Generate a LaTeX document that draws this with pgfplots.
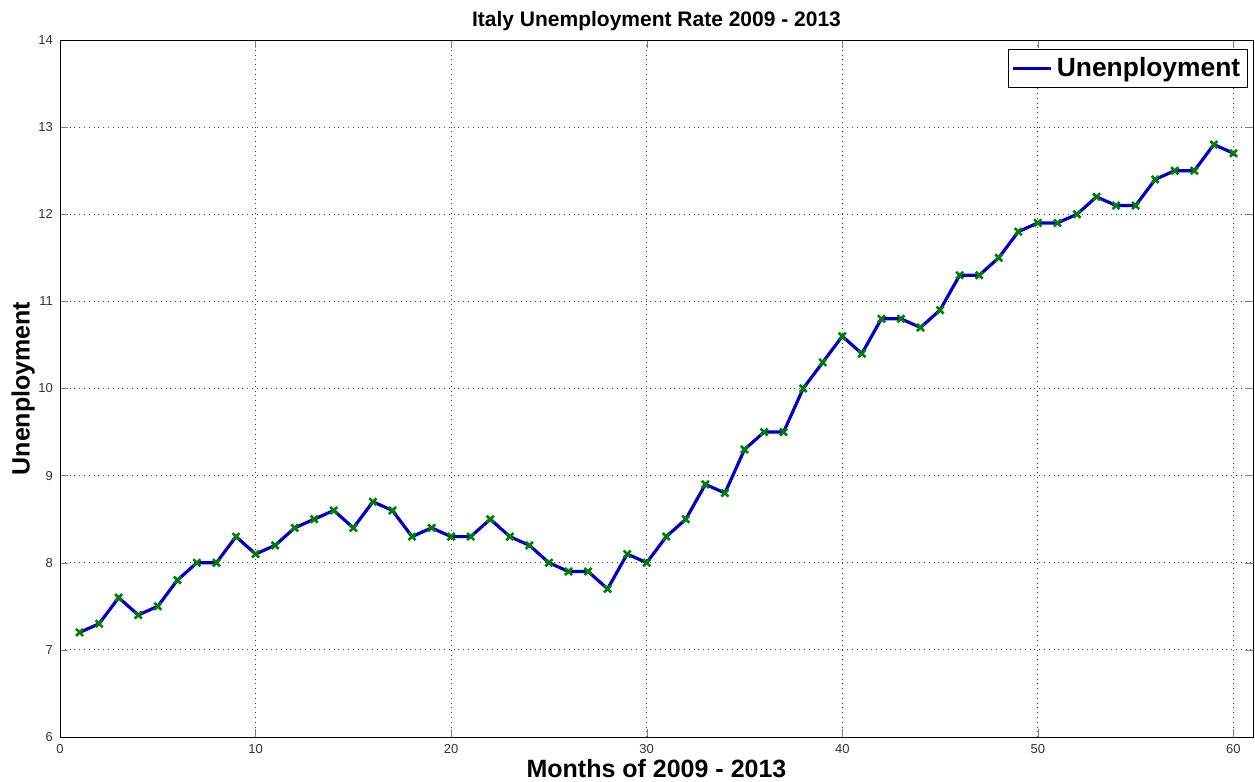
\documentclass[border=0pt]{standalone}
\usepackage{pgfplots}
\pgfplotsset{compat=1.18}
\usepackage{fontspec}
\setmainfont{Liberation Sans}
\begin{document}
\begin{tikzpicture}
\begin{axis}[
  at={(0,0)}, anchor=south west,
  scale only axis, width=596.5pt, height=348.5pt,
  xmin=0, xmax=61, ymin=6, ymax=14,
  xtick={0,10,...,60}, ytick={6,7,...,14},
  tick align=inside, tick pos=both,
  major tick length=4pt,
  grid=major, grid style={black!75, dotted, line width=0.4pt},
  ticklabel style={font=\fontsize{6.5}{7}\selectfont, text=black!80},
  /pgf/number format/assume math mode=true,
  xlabel={\bfseries Months of 2009 - 2013},
  ylabel={\bfseries Unenployment},
  xlabel style={font=\fontsize{12.5}{14}\selectfont, yshift=4pt},
  ylabel style={font=\fontsize{12.5}{14}\selectfont, yshift=-5pt},
  title={\bfseries Italy Unemployment Rate 2009 - 2013},
  title style={font=\fontsize{10.5}{12}\selectfont, yshift=-5pt},
  legend style={at={(0.9955,0.987)}, anchor=north east, draw=black, font=\bfseries\fontsize{13.2}{15}\selectfont, inner xsep=1.5pt, inner ysep=2pt, row sep=0pt},
  legend cell align=left,
  legend image code/.code={\draw[#1, mark=none] (-0.05cm,0cm) -- (0.62cm,0cm);},
]
\addplot[blue!80!black, line width=1.6pt, mark=x, mark size=2.5pt, mark options={draw=green!50!black, line width=1.3pt}] coordinates {
(1,7.2)(2,7.3)(3,7.6)(4,7.4)(5,7.5)(6,7.8)(7,8.0)(8,8.0)(9,8.3)(10,8.1)
(11,8.2)(12,8.4)(13,8.5)(14,8.6)(15,8.4)(16,8.7)(17,8.6)(18,8.3)(19,8.4)(20,8.3)
(21,8.3)(22,8.5)(23,8.3)(24,8.2)(25,8.0)(26,7.9)(27,7.9)(28,7.7)(29,8.1)(30,8.0)
(31,8.3)(32,8.5)(33,8.9)(34,8.8)(35,9.3)(36,9.5)(37,9.5)(38,10.0)(39,10.3)(40,10.6)
(41,10.4)(42,10.8)(43,10.8)(44,10.7)(45,10.9)(46,11.3)(47,11.3)(48,11.5)(49,11.8)(50,11.9)
(51,11.9)(52,12.0)(53,12.2)(54,12.1)(55,12.1)(56,12.4)(57,12.5)(58,12.5)(59,12.8)(60,12.7)
};
\addlegendentry{Unenployment}
\end{axis}
\pgfresetboundingbox
\path (-30pt,-22.5pt) rectangle (597.5pt,368.5pt);
\end{tikzpicture}
\end{document}
